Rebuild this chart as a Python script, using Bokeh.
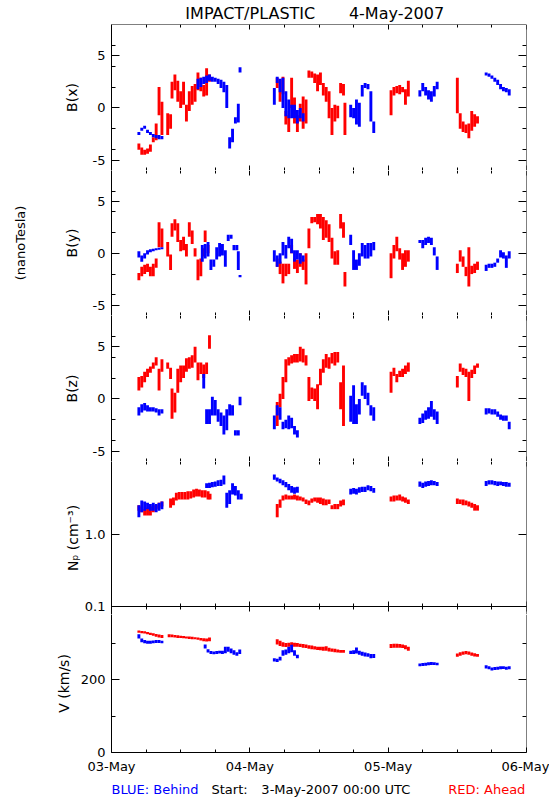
import math
from bokeh.plotting import figure
from bokeh.layouts import column
from bokeh.models import Range1d, LinearAxis, LogAxis, FixedTicker, Label, ColumnDataSource
from bokeh.embed import file_html
from bokeh.resources import INLINE

# ---------------- data: hours after 3-May-2007 00:00 UTC, value spread (lo, hi) ----------------
# B(x), nT
bx_red_t = [4.75, 5.25, 5.75, 6.25, 6.75, 7.25, 7.75, 8.25, 8.75, 9.75, 10.25, 10.5,
            11.0, 11.5, 12.0, 12.5, 13.0, 13.5, 14.0, 14.5, 15.0, 15.5, 16.0, 16.5, 17.0,
            28.75, 29.25, 29.75, 30.25, 30.75, 31.25, 31.75, 32.25, 32.75, 33.25, 33.75,
            34.25, 34.75, 35.25, 35.75, 36.25, 36.75, 37.25, 37.75, 38.25, 38.75, 39.25,
            39.75, 40.25, 40.5,
            48.5, 49.0, 49.5, 50.0, 50.5, 51.0, 51.5,
            60.0, 60.5, 61.0, 61.5, 62.0, 62.5, 63.0, 63.5]
bx_red_lo = [-4.0, -4.5, -4.5, -4.4, -4.2, -3.3, -3.1, -0.7, -2.6, -2.6, -2.0, 0.9,
             1.7, 0.6, 0.0, 0.3, -1.3, -0.3, 0.3, 0.6, 1.7, 1.6, 1.1, 1.2, 2.5,
             1.9, 0.6, 1.3, -1.6, -2.3, 0.0, -1.5, -2.3, -1.3, -2.0, -1.5,
             2.9, 2.9, 2.4, 1.6, 2.2, 1.2, 0.6, -1.0, -2.6, -1.3, -1.0,
             1.4, 1.2, -2.6,
             -0.7, 1.2, 1.4, 1.3, 1.5, 0.3, 1.1,
             -0.5, -2.0, -2.3, -2.4, -2.9, -2.2, -1.8, -1.5]
bx_red_hi = [-3.4, -3.8, -4.0, -3.9, -3.5, -2.8, -1.5, 2.0, 0.6, -0.5, -0.6, 2.5,
             3.2, 2.6, 1.6, 2.5, 0.3, 1.6, 2.1, 2.3, 3.4, 2.9, 2.2, 3.8, 3.2,
             2.9, 2.7, 3.0, -0.3, -0.7, 2.9, 1.0, -0.7, 0.4, 1.1, 0.8,
             3.6, 3.5, 3.3, 3.2, 3.4, 2.4, 2.0, 1.6, 0.0, 0.3, 0.2,
             2.4, 2.3, 0.5,
             1.7, 2.0, 2.1, 2.2, 2.0, 1.8, 2.6,
             2.9, -0.5, -1.3, -1.6, -1.5, -0.3, -0.6, -0.8]
bx_blue_t = [4.75, 5.25, 5.75, 6.25, 6.75, 7.25, 7.75, 8.25, 8.75,
             15.0, 15.5, 16.0, 16.5, 17.0, 17.5, 18.0, 18.5, 19.0, 19.5, 20.0, 20.5, 21.0, 21.5, 22.0, 22.3,
             28.25, 28.75, 29.25, 29.75, 30.25, 30.75, 31.25, 31.75, 32.25, 32.75, 33.25,
             41.5, 42.0, 42.5, 43.0, 43.5, 44.0, 44.5, 45.0, 45.5,
             53.5, 54.0, 54.5, 55.0, 55.5, 56.0, 56.5,
             65.0, 65.5, 66.0, 66.5, 67.0, 67.5, 68.0, 68.5, 69.0]
bx_blue_lo = [-2.6, -2.2, -2.0, -2.4, -2.6, -2.8, -2.9, -3.0, -3.0,
              1.8, 2.0, 2.3, 2.4, 2.6, 2.5, 2.5, 2.3, 1.9, 1.5, 0.0, -3.9, -3.3, -1.5, -1.4, 3.4,
              0.3, 2.4, 1.5, 0.0, -0.8, -1.0, -1.0, -1.0, -1.5, -1.0, -1.3,
              -0.9, -1.0, -1.6, -1.8, 1.1, 1.9, 1.8, -1.3, -2.4,
              1.1, 1.6, 1.2, 0.8, 0.6, 1.1, 1.8,
              3.1, 3.0, 2.8, 2.5, 2.2, 1.8, 1.6, 1.5, 1.2]
bx_blue_hi = [-2.3, -1.9, -1.7, -2.1, -2.3, -2.5, -2.6, -2.6, -2.7,
              2.8, 2.9, 3.0, 3.1, 3.2, 3.0, 2.9, 2.8, 2.7, 2.5, 2.2, -2.8, -2.0, -0.9, 0.4, 3.9,
              1.9, 3.0, 2.8, 2.9, 1.6, 0.8, 0.3, 0.3, -0.2, 0.0, -0.5,
              0.3, 0.0, 0.8, 0.5, 2.2, 2.4, 2.3, 1.6, -1.3,
              1.7, 2.4, 2.0, 1.7, 1.6, 2.1, 2.5,
              3.4, 3.3, 3.1, 2.9, 2.7, 2.3, 2.0, 1.9, 1.8]

# B(y), nT
by_red_t = [4.75, 5.25, 5.75, 6.25, 6.75, 7.25, 7.75, 8.25, 8.75, 9.75, 10.25, 10.5,
            11.0, 11.5, 12.0, 12.5, 13.0, 13.5, 14.0, 14.5, 15.0, 15.5, 16.0, 16.25, 16.75,
            28.75, 29.25, 29.75, 30.25, 30.75, 31.25, 31.75, 32.25, 32.75, 33.25, 33.75,
            34.25, 34.75, 35.25, 35.75, 36.25, 36.75, 37.25, 37.75, 38.25, 38.75, 39.25,
            39.75, 40.25, 40.5,
            48.5, 49.0, 49.5, 50.0, 50.5, 51.0, 51.5,
            60.0, 60.5, 61.0, 61.5, 62.0, 62.5, 63.0, 63.5]
by_red_lo = [-2.6, -2.2, -2.0, -1.8, -2.2, -2.2, -1.4, 0.6, 0.6, -0.3, -1.6, 1.6,
             2.2, 1.1, 0.2, 0.3, -0.3, 1.6, 0.9, -0.3, -2.6, -2.2, -0.3, 1.1, 0.0,
             -1.3, -2.0, -2.9, -2.2, -2.0, 0.0, -1.5, -1.9, -1.3, -1.6, -3.0,
             0.5, 2.9, 3.0, 2.8, 2.4, 1.3, 1.5, 1.1, -0.5, -1.1, -1.1,
             2.4, 1.5, -3.2,
             -2.4, -0.5, 0.2, -0.6, -1.6, -1.3, -0.8,
             -1.9, -0.8, -1.3, -2.2, -3.2, -2.0, -1.9, -1.6]
by_red_hi = [-1.9, -1.3, -1.1, -1.0, -1.3, -1.0, -0.5, 3.0, 2.4, 1.1, -0.1, 2.9,
             3.3, 2.9, 1.3, 1.6, 0.9, 3.0, 2.2, 0.5, -0.6, -0.5, 0.5, 2.2, 0.8,
             -0.5, -0.8, -1.0, -1.0, -1.0, 0.8, -0.5, -0.6, 0.0, -0.6, 0.0,
             2.4, 3.5, 3.5, 3.8, 3.8, 3.5, 3.2, 2.8, 1.5, 0.2, 0.3,
             3.8, 3.0, -1.8,
             0.0, 0.8, 1.6, 0.5, 0.0, 0.3, 0.3,
             -1.0, 0.3, -0.3, -1.3, 0.6, -1.2, -1.0, -0.8]
by_blue_t = [4.75, 5.25, 5.75, 6.25, 6.75, 7.25, 7.75, 8.25, 8.75,
             15.75, 16.25, 16.75, 17.25, 17.75, 18.25, 18.75, 19.25, 19.75, 20.25, 20.75, 21.25, 21.75, 22.0, 22.3,
             28.25, 28.75, 29.25, 29.75, 30.25, 30.75, 31.25, 31.75, 32.25, 32.75, 33.25,
             41.5, 42.0, 42.5, 43.0, 43.5, 44.0, 44.5, 45.0, 45.5,
             53.5, 54.0, 54.5, 55.0, 55.5, 56.0, 56.5,
             65.0, 65.5, 66.0, 66.5, 67.0, 67.5, 68.0, 68.5, 69.0]
by_blue_lo = [-0.4, -0.8, -0.5, -0.1, 0.1, 0.2, 0.3, 0.35, 0.4,
              -0.8, -0.5, -0.3, -1.6, -1.3, -0.6, -0.3, -0.2, -1.3, 1.2, 1.4, 0.3, 0.3, -1.6, -2.3,
              -0.8, -1.3, -1.0, -0.2, -0.5, 0.5, 0.0, -0.8, -0.6, -1.0, -0.8,
              0.8, -1.6, -1.6, -1.2, -0.3, -0.5, -0.5, -0.3, 0.3,
              1.0, 0.5, 0.8, 1.0, 0.8, -0.2, -1.6,
              -1.7, -1.4, -1.4, -1.3, -0.9, -0.4, -0.5, -1.4, -0.5]
by_blue_hi = [0.2, -0.2, 0.0, 0.3, 0.4, 0.45, 0.5, 0.55, 0.6,
              0.8, 0.9, 1.1, -0.6, -0.6, 0.6, 1.0, 0.9, 0.3, 1.8, 1.8, 0.8, 0.8, 0.2, -2.1,
              0.3, -0.2, 0.0, 1.1, 0.8, 1.6, 1.4, 0.3, 0.3, 0.0, -0.2,
              1.8, 0.3, -0.6, 0.0, 1.0, 0.8, 1.0, 1.0, 1.1,
              1.3, 1.3, 1.5, 1.6, 1.5, 0.6, -0.3,
              -1.1, -1.0, -1.0, -0.9, -0.5, 0.3, 0.1, -0.2, 0.2]

# B(z), nT
bz_red_t = [4.75, 5.25, 5.75, 6.25, 6.75, 7.25, 7.75, 8.25, 8.75, 9.75, 10.25, 10.5,
            11.0, 11.5, 12.0, 12.5, 13.0, 13.5, 14.0, 14.5, 15.0, 15.5, 16.0, 16.5, 17.0,
            28.75, 29.25, 29.75, 30.25, 30.75, 31.25, 31.75, 32.25, 32.75, 33.25, 33.75,
            34.25, 34.75, 35.25, 35.75, 36.25, 36.75, 37.25, 37.75, 38.25, 38.75, 39.25,
            39.75, 40.25,
            48.5, 49.0, 49.5, 50.0, 50.5, 51.0, 51.5,
            60.0, 60.5, 61.0, 61.5, 62.0, 62.5, 63.0, 63.5]
bz_red_lo = [0.8, 1.1, 1.6, 2.1, 2.5, 2.9, 3.2, 0.8, 2.6, 2.9, 1.9, -1.9,
             -1.3, 0.6, 1.6, 2.0, 2.6, 2.9, 3.0, 3.5, 1.8, 2.4, 2.0, 2.4, 4.8,
             -2.6, -0.8, 0.0, 1.6, 3.2, 3.4, 3.5, 3.5, 3.6, 3.5, 3.2,
             -0.2, 0.0, -0.2, -1.0, 1.3, 2.5, 3.0, 2.9, 3.4, 3.2, 3.5,
             -1.0, -2.6,
             0.6, 2.2, 1.6, 2.1, 2.1, 2.4, 2.6,
             1.1, 2.6, 2.3, 2.1, -0.2, 2.0, 2.4, 3.0]
bz_red_hi = [2.1, 2.2, 2.6, 2.9, 3.1, 3.5, 4.0, 2.9, 3.8, 3.5, 3.0, 1.0,
             0.6, 2.9, 3.2, 3.2, 3.9, 4.0, 4.2, 5.0, 3.5, 3.5, 3.3, 3.5, 6.1,
             -0.3, 0.5, 2.1, 3.8, 4.0, 4.2, 4.3, 4.3, 5.0, 4.8, 4.2,
             2.1, 1.1, 1.0, 1.4, 2.9, 3.8, 4.3, 4.0, 4.4, 4.5, 4.5,
             1.6, 3.2,
             2.6, 3.0, 2.4, 2.7, 2.9, 3.2, 3.5,
             2.2, 3.4, 3.0, 2.9, 2.6, 2.8, 3.2, 3.4]
bz_blue_t = [4.75, 5.25, 5.75, 6.25, 6.75, 7.25, 7.75, 8.25, 8.75,
             16.0, 16.5, 17.0, 17.5, 18.0, 18.5, 19.0, 19.5, 20.0, 20.5, 21.0, 21.5, 22.0, 22.3,
             28.25, 28.75, 29.25, 29.75, 30.25, 30.75, 31.25, 31.75, 32.25,
             41.5, 42.0, 42.5, 43.0, 43.5, 44.0, 44.5, 45.0, 45.5,
             53.5, 54.0, 54.5, 55.0, 55.5, 56.0, 56.5,
             65.0, 65.5, 66.0, 66.5, 67.0, 67.5, 68.0, 68.5, 69.0]
bz_blue_lo = [-1.6, -1.3, -1.1, -1.2, -1.2, -1.2, -1.3, -1.6, -1.4,
              1.0, -2.4, -2.4, -1.6, -1.6, -2.2, -2.6, -3.4, -3.0, -1.6, -1.6, -3.5, -3.5, -0.6,
              -2.9, -1.6, -2.0, -2.9, -2.8, -2.9, -2.8, -3.4, -3.7,
              -2.2, -2.4, -2.4, -1.5, 0.3, 0.0, -0.6, -1.6, -2.1,
              -2.4, -2.3, -2.0, -1.9, -1.7, -2.0, -2.4,
              -1.5, -1.4, -1.5, -1.5, -1.7, -2.0, -2.1, -2.1, -2.9]
bz_blue_hi = [-0.8, -0.5, -0.4, -0.6, -0.8, -0.8, -0.9, -1.0, -1.0,
              2.4, -1.0, -1.0, 0.2, -0.1, -1.0, -1.3, -1.6, -1.0, -0.5, -0.6, -3.0, -3.0, 0.2,
              -1.6, -0.6, -0.8, -2.2, -2.0, -1.6, -1.8, -2.6, -3.0,
              0.3, 1.3, -0.5, 0.0, 1.6, 1.3, 0.6, -0.6, -0.8,
              -1.8, -1.4, -1.1, -0.8, -0.2, -1.0, -1.2,
              -0.9, -0.9, -1.0, -1.0, -1.2, -1.5, -1.6, -1.6, -2.2]

# N_p, cm^-3
np_red_t = [4.75, 5.25, 5.75, 6.25, 6.75, 7.25, 7.75, 8.25, 8.75,
            10.25, 10.75, 11.25, 11.75, 12.25, 12.75, 13.25, 13.75, 14.25, 14.75, 15.25, 15.75, 16.25, 16.75, 17.1,
            28.75, 29.25, 29.75, 30.25, 30.75, 31.25, 31.75, 32.25, 32.75, 33.25, 33.75, 34.25,
            34.75, 35.25, 35.75, 36.25, 36.75, 37.25, 37.75, 38.25, 38.75, 39.25, 39.75, 40.25,
            48.5, 49.0, 49.5, 50.0, 50.5, 51.0, 51.5,
            60.0, 60.5, 61.0, 61.5, 62.0, 62.5, 63.0, 63.5]
np_red_lo = [2.1, 2.0, 1.8, 1.8, 1.8, 2.0, 2.2, 2.3, 2.4,
             2.3, 2.5, 2.9, 3.0, 3.0, 3.0, 3.0, 3.1, 3.2, 3.3, 3.3, 3.2, 3.2, 3.0, 3.0,
             1.7, 2.3, 2.9, 3.0, 3.0, 3.0, 3.0, 2.9, 2.9, 2.8, 2.6, 2.5,
             2.7, 2.8, 2.7, 2.6, 2.5, 2.5, 2.6, 2.2, 2.2, 2.2, 2.4, 2.5,
             2.8, 2.8, 2.9, 2.9, 2.8, 2.7, 2.6,
             2.6, 2.6, 2.5, 2.5, 2.4, 2.3, 2.1, 2.1]
np_red_hi = [2.5, 2.4, 2.2, 2.3, 2.4, 2.5, 2.5, 2.7, 2.8,
             3.1, 3.2, 3.7, 3.8, 3.8, 3.8, 3.9, 3.9, 4.1, 4.2, 4.1, 4.0, 4.0, 3.9, 3.6,
             2.6, 3.0, 3.4, 3.5, 3.4, 3.4, 3.5, 3.4, 3.3, 3.2, 3.0, 2.9,
             3.1, 3.2, 3.2, 3.2, 3.1, 3.0, 3.0, 2.5, 2.6, 2.6, 2.9, 3.0,
             3.3, 3.4, 3.4, 3.5, 3.3, 3.2, 3.0,
             3.1, 3.0, 3.0, 2.9, 2.8, 2.7, 2.6, 2.5]
np_blue_t = [4.75, 5.25, 5.75, 6.25, 6.75, 7.25, 7.75, 8.25, 8.75,
             16.5, 17.0, 17.5, 18.0, 18.5, 19.0, 19.5, 20.0, 20.5, 21.0, 21.5, 22.0, 22.5,
             28.25, 28.75, 29.25, 29.75, 30.25, 30.75, 31.25, 31.75, 32.25,
             41.5, 42.0, 42.5, 43.0, 43.5, 44.0, 44.5, 45.0, 45.5,
             53.5, 54.0, 54.5, 55.0, 55.5, 56.0, 56.5,
             65.0, 65.5, 66.0, 66.5, 67.0, 67.5, 68.0, 68.5, 69.0]
np_blue_lo = [1.7, 2.0, 2.1, 2.2, 2.1, 2.1, 2.0, 2.1, 2.2,
              4.3, 4.3, 4.4, 4.5, 4.6, 4.6, 4.8, 2.3, 2.6, 3.5, 3.4, 3.0, 3.0,
              5.6, 5.3, 5.0, 4.7, 4.4, 4.0, 3.7, 3.6, 3.7,
              3.5, 3.6, 3.5, 3.7, 3.8, 3.8, 4.0, 3.9, 3.7,
              4.5, 4.3, 4.5, 4.6, 4.7, 4.7, 4.6,
              4.6, 4.8, 4.8, 4.7, 4.6, 4.7, 4.6, 4.5, 4.5]
np_blue_hi = [2.5, 2.9, 2.8, 2.7, 2.6, 2.7, 2.6, 2.7, 2.8,
              5.0, 5.1, 5.2, 5.3, 5.5, 5.6, 6.4, 3.7, 4.0, 5.0, 4.6, 4.0, 3.6,
              6.6, 6.0, 5.8, 5.5, 5.2, 4.9, 4.6, 4.4, 4.5,
              4.2, 4.3, 4.2, 4.4, 4.5, 4.5, 4.7, 4.6, 4.3,
              5.3, 5.1, 5.3, 5.4, 5.5, 5.4, 5.2,
              5.4, 5.5, 5.5, 5.4, 5.3, 5.3, 5.2, 5.2, 5.1]

# V, km/s
v_red_t = [4.75, 5.25, 5.75, 6.25, 6.75, 7.25, 7.75, 8.25, 8.75,
           10.0, 10.5, 11.0, 11.5, 12.0, 12.5, 13.0, 13.5, 14.0, 14.5, 15.0, 15.5, 16.0, 16.5, 17.0,
           28.75, 29.25, 29.75, 30.25, 30.75, 31.25, 31.75, 32.25, 32.75, 33.25, 33.75, 34.25,
           34.75, 35.25, 35.75, 36.25, 36.75, 37.25, 37.75, 38.25, 38.75, 39.25, 39.75, 40.25,
           48.5, 49.0, 49.5, 50.0, 50.5, 51.0, 51.5,
           60.0, 60.5, 61.0, 61.5, 62.0, 62.5, 63.0, 63.5]
v_red_lo = [328, 327, 326, 324, 322, 320, 317, 315, 314,
            316, 316, 315, 314, 314, 313, 312, 311, 310, 310, 309, 307, 305, 304, 305,
            296, 292, 290, 289, 290, 291, 290, 290, 289, 287, 286, 284,
            283, 282, 281, 280, 279, 279, 277, 276, 275, 274, 273, 273,
            286, 287, 287, 287, 286, 283, 279,
            262, 265, 268, 269, 268, 265, 263, 262]
v_red_hi = [334, 333, 332, 330, 328, 327, 325, 323, 322,
            324, 323, 322, 321, 320, 319, 318, 318, 317, 316, 315, 314, 313, 312, 315,
            310, 306, 302, 300, 301, 302, 301, 300, 298, 297, 296, 294,
            293, 291, 290, 290, 290, 291, 287, 285, 284, 282, 281, 281,
            297, 298, 298, 297, 296, 294, 290,
            271, 275, 277, 278, 277, 274, 272, 270]
v_blue_t = [4.75, 5.25, 5.75, 6.25, 6.75, 7.25, 7.75, 8.25, 8.75,
            16.25, 16.75, 17.25, 17.75, 18.25, 18.75, 19.25, 19.75, 20.25, 20.75, 21.25, 21.75, 22.25,
            28.25, 28.75, 29.25, 29.75, 30.25, 30.75, 31.25, 31.75, 32.25,
            41.5, 42.0, 42.5, 43.0, 43.5, 44.0, 44.5, 45.0, 45.5,
            53.5, 54.0, 54.5, 55.0, 55.5, 56.0, 56.5,
            65.0, 65.5, 66.0, 66.5, 67.0, 67.5, 68.0, 68.5, 69.0]
v_blue_lo = [312, 302, 299, 298, 298, 299, 300, 300, 299,
             285, 274, 270, 269, 270, 271, 270, 272, 276, 272, 268, 265, 270,
             249, 248, 252, 265, 268, 272, 275, 265, 258,
             270, 270, 271, 268, 265, 263, 262, 258, 259,
             236, 237, 238, 239, 240, 240, 239,
             230, 228, 225, 226, 227, 228, 229, 227, 228]
v_blue_hi = [324, 312, 308, 306, 306, 307, 308, 308, 306,
             296, 283, 278, 277, 278, 279, 279, 290, 290, 285, 280, 275, 282,
             258, 257, 262, 280, 282, 290, 295, 280, 268,
             279, 280, 288, 279, 276, 274, 272, 270, 270,
             244, 245, 246, 247, 248, 247, 246,
             239, 236, 233, 234, 235, 236, 236, 235, 236]

# ticks and labels
day_ticks = [0, 24, 48, 72]
hour_ticks = [6, 12, 18, 30, 36, 42, 54, 60, 66]
day_labels = {0: "03-May", 24: "04-May", 48: "05-May", 72: "06-May"}
b_ticks = [-5, 0, 5]
b_minor = [-4, -2, 2, 4, 6]
b_labels = {-5: "-5", 0: "0", 5: "5"}
np_ticks = [0.1, 1.0]
np_labels = {0.1: "0.1", 1.0: "1.0"}
v_ticks = [0, 200]
v_minor = [100, 300]
v_labels = {0: "0", 200: "200"}
title_left = "IMPACT/PLASTIC"
title_right = "4-May-2007"

RED = "#ff0000"
BLUE = "#0000ff"
FONT = "DejaVu Sans"
FW = 415
LB, RB = 111, 23
EXT = 8                      # px of the N_p frame that reach below 0.1 (keeps its label whole)
NP_LOW = 0.1 / 10 ** (EXT / 72.5)
V_TOP = 400 - EXT * 400 / 146

x_range = Range1d(0, 72)


def style(ax, major, minor, line=True):
    ax.major_tick_in = major
    ax.major_tick_out = 0
    ax.minor_tick_in = minor
    ax.minor_tick_out = 0
    ax.axis_line_color = "black" if line else None
    ax.axis_line_width = 1
    ax.major_tick_line_color = "black"
    ax.minor_tick_line_color = "black"
    ax.major_label_text_font = FONT
    ax.major_label_text_font_size = "13px"
    ax.major_label_text_color = "black"
    ax.axis_label_text_font = FONT
    ax.axis_label_text_font_size = "14px"
    ax.axis_label_text_font_style = "normal"
    ax.axis_label_text_color = "black"


def xticker():
    return FixedTicker(ticks=day_ticks, minor_ticks=hour_ticks)


def panel(h, yr, log, yticks, yminor, ylabels, ylabel, standoff, y_top, y_bottom,
          top_border=0, bottom_border=0, top_line=False, top_axis=True,
          bottom_mode="fixed"):
    p = figure(frame_width=FW, frame_height=h, x_range=x_range, y_range=yr,
               y_axis_type="log" if log else "linear",
               x_axis_location=None, y_axis_location=None, title=None,
               output_backend="svg", toolbar_location=None,
               min_border_left=LB, min_border_right=RB,
               min_border_top=top_border, min_border_bottom=bottom_border)
    p.outline_line_color = None
    p.grid.visible = False
    AxisY = LogAxis if log else LinearAxis
    left = AxisY(ticker=FixedTicker(ticks=yticks, minor_ticks=yminor),
                 axis_label=ylabel, major_label_overrides=ylabels)
    style(left, 8, 4)
    left.major_label_standoff = 6
    left.axis_label_standoff = standoff
    p.add_layout(left, "left")
    right = AxisY(ticker=FixedTicker(ticks=yticks, minor_ticks=yminor),
                  fixed_location=72, major_label_overrides={k: "" for k in ylabels})
    style(right, 8, 4)
    p.add_layout(right, "right")
    if top_axis:
        top = LinearAxis(ticker=xticker(), fixed_location=y_top,
                         major_label_overrides={k: "" for k in day_labels})
        style(top, 5, 3, line=top_line)
        p.add_layout(top, "above")
    if bottom_mode == "labels":
        bottom = LinearAxis(ticker=xticker(), major_label_overrides=day_labels)
        style(bottom, 5, 3)
        bottom.major_label_standoff = 6
    else:
        bottom = LinearAxis(ticker=xticker(), fixed_location=y_bottom,
                            major_label_overrides={k: "" for k in day_labels})
        style(bottom, 5, 3)
        if bottom_mode == "both":       # boundary with the panel below: ticks both ways
            bottom.major_tick_out = 5
            bottom.minor_tick_out = 3
    p.add_layout(bottom, "below")
    return p


def draw(p, t, lo, hi, color):
    src = ColumnDataSource(dict(t=t, lo=lo, hi=hi))
    p.segment(x0="t", y0="lo", x1="t", y1="hi", source=src,
              line_color=color, line_width=2.9)


p1 = panel(146, Range1d(-6, 8), False, b_ticks, b_minor, b_labels, "B(x)", 10, 8, -6,
           top_border=23, top_line=True)
p2 = panel(145, Range1d(-6, 8), False, b_ticks, b_minor, b_labels, "B(y)", 10, 8, -6)
p3 = panel(146, Range1d(-6, 8), False, b_ticks, b_minor, b_labels, "B(z)", 10, 8, -6)
p4 = panel(145 + EXT, Range1d(NP_LOW, 10), True, np_ticks, [], np_labels, "Nₚ (cm⁻³)", 1,
           10, 0.1, bottom_mode="both")
p5 = panel(146 - EXT, Range1d(0, V_TOP), False, v_ticks, v_minor, v_labels, "V (km/s)", 6,
           V_TOP, 0, bottom_border=24, top_axis=False, bottom_mode="labels")

# title, as labels of an outer top axis of the first panel
title_ax = LinearAxis(ticker=FixedTicker(ticks=[24.08, 49.45]),
                      major_label_overrides={24.08: title_left, 49.45: title_right})
style(title_ax, 0, 0, line=False)
title_ax.major_tick_line_color = None
title_ax.minor_tick_line_color = None
title_ax.major_label_text_font_size = "16px"
title_ax.major_label_standoff = 2
p1.add_layout(title_ax, "above")

# common unit label of the three field panels, as an outer left axis of B(y)
unit_ax = LinearAxis(ticker=FixedTicker(ticks=[]), axis_label="(nanoTesla)")
style(unit_ax, 0, 0, line=False)
unit_ax.major_tick_line_color = None
unit_ax.minor_tick_line_color = None
unit_ax.axis_label_text_font_size = "13px"
unit_ax.axis_label_standoff = 33
p2.add_layout(unit_ax, "left")

draw(p1, bx_red_t, bx_red_lo, bx_red_hi, RED)
draw(p1, bx_blue_t, bx_blue_lo, bx_blue_hi, BLUE)
draw(p2, by_red_t, by_red_lo, by_red_hi, RED)
draw(p2, by_blue_t, by_blue_lo, by_blue_hi, BLUE)
draw(p3, bz_red_t, bz_red_lo, bz_red_hi, RED)
draw(p3, bz_blue_t, bz_blue_lo, bz_blue_hi, BLUE)
draw(p4, np_red_t, np_red_lo, np_red_hi, RED)
draw(p4, np_blue_t, np_blue_lo, np_blue_hi, BLUE)
draw(p5, v_red_t, v_red_lo, v_red_hi, RED)
draw(p5, v_blue_t, v_blue_lo, v_blue_hi, BLUE)

# footer strip
foot = figure(frame_width=FW, frame_height=24, x_range=x_range, y_range=Range1d(0, 24),
              x_axis_location=None, y_axis_location=None, title=None,
              output_backend="svg", toolbar_location=None,
              min_border_left=LB, min_border_right=RB, min_border_top=0, min_border_bottom=0)
foot.outline_line_color = None
foot.grid.visible = False


def text(p, x, y, s, color="black", align="left"):
    p.add_layout(Label(x=x, y=y, text=s, text_font=FONT, text_font_size="13px",
                       text_align=align, text_baseline="alphabetic", text_color=color))


text(foot, 0.0, 11.0, "BLUE: Behind", color=BLUE)
text(foot, 17.35, 11.0, "Start:")
text(foot, 26.0, 11.0, "3-May-2007 00:00 UTC")
text(foot, 71.8, 11.0, "RED: Ahead", color=RED, align="right")

layout = column(p1, p2, p3, p4, p5, foot)
open("out.html", "w").write(file_html(layout, INLINE))
